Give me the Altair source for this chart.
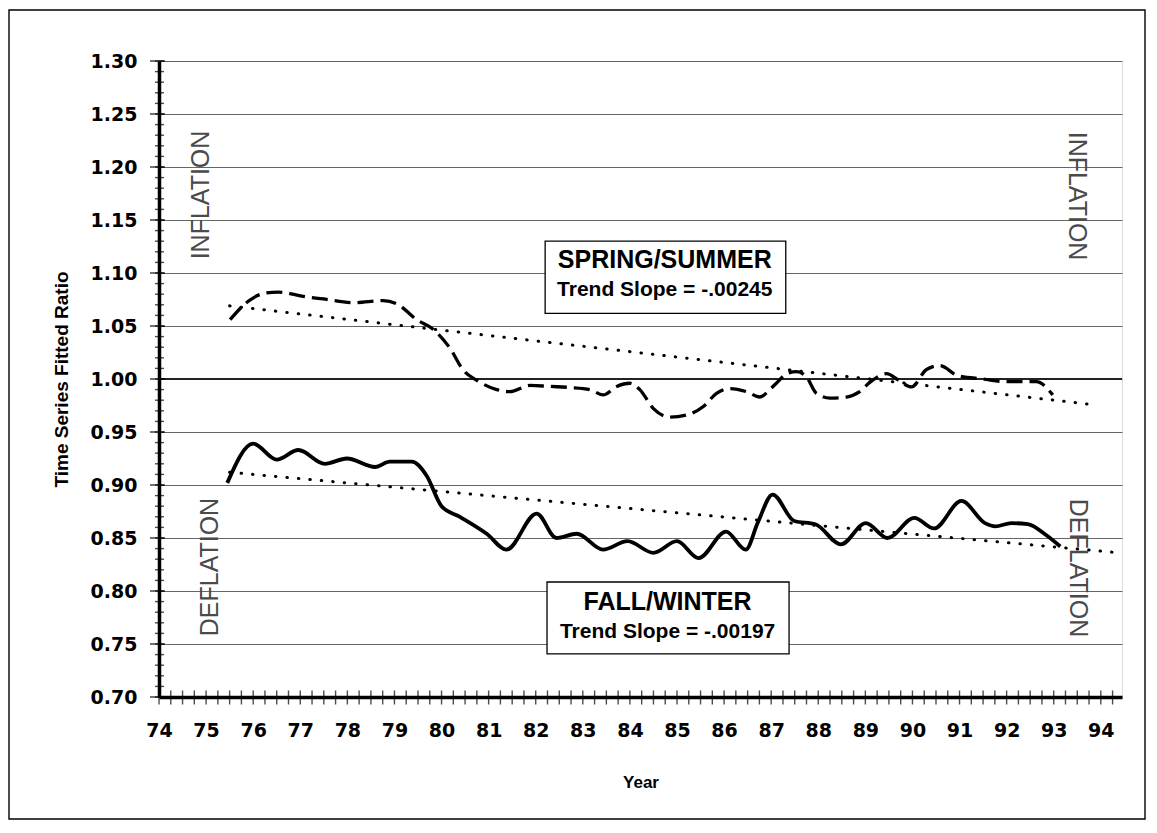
import altair as alt
import pandas as pd

# ---------------- data ----------------
fw_year = [75.45, 76.0, 76.5, 76.96, 77.52, 77.99, 78.59, 78.9, 79.37, 79.68,
           80.0, 80.39, 80.96, 81.38, 82.02, 82.44, 82.87, 83.43, 83.95, 84.5,
           85.0, 85.46, 86.04, 86.46, 86.72, 87.03, 87.49, 87.94, 88.48, 89.01,
           89.47, 90.04, 90.46, 91.04, 91.54, 91.76, 92.1, 92.45, 92.83, 93.14]
fw_val = [0.902, 0.939, 0.924, 0.933, 0.920, 0.925, 0.917, 0.922, 0.922, 0.909,
          0.880, 0.870, 0.854, 0.839, 0.873, 0.850, 0.854, 0.839, 0.847, 0.836,
          0.847, 0.831, 0.856, 0.839, 0.865, 0.891, 0.866, 0.863, 0.844, 0.864,
          0.850, 0.869, 0.859, 0.885, 0.864, 0.861, 0.864, 0.863, 0.853, 0.842]

ss_year = [75.51, 75.93, 76.25, 76.53, 77.06, 77.49, 78.13, 78.76, 79.05, 79.47,
           79.82, 80.18, 80.46, 80.74, 81.17, 81.45, 81.88, 82.3, 82.73, 83.15,
           83.43, 83.72, 84.0, 84.21, 84.5, 84.85, 85.2, 85.56, 85.84, 86.12,
           86.48, 86.76, 86.97, 87.11, 87.33, 87.54, 87.75, 87.96, 88.25, 88.6,
           88.88, 89.1, 89.45, 89.7, 89.98, 90.3, 90.58, 90.97, 91.5, 92.0,
           92.63, 92.98]
ss_val = [1.056, 1.0745, 1.081, 1.082, 1.078, 1.0755, 1.072, 1.074, 1.071, 1.056,
          1.047, 1.029, 1.0085, 0.999, 0.990, 0.988, 0.994, 0.993, 0.992, 0.990,
          0.985, 0.993, 0.996, 0.990, 0.972, 0.964, 0.966, 0.974, 0.9865, 0.991,
          0.988, 0.983, 0.990, 0.996, 1.005, 1.007, 1.002, 0.9865, 0.982, 0.983,
          0.988, 0.997, 1.005, 0.999, 0.9925, 1.009, 1.0126, 1.003, 1.000, 0.9975,
          0.9975, 0.985]

ss_trend_year = [75.5, 93.8]
ss_trend_val = [1.069, 0.976]
fw_trend_year = [75.5, 94.4]
fw_trend_val = [0.912, 0.836]

year_labels = list(range(74, 95))
ratio_labels = [round(0.70 + 0.05 * i, 2) for i in range(13)]
ratio_minor = [round(0.70 + 0.01 * i, 2) for i in range(61)]
year_minor = [74 + 0.25 * i for i in range(82)]

box_text = ["SPRING/SUMMER", "Trend Slope = -.00245", "FALL/WINTER", "Trend Slope = -.00197"]
side_text_left = ["INFLATION", "DEFLATION"]
side_text_right = ["INFLATION", "DEFLATION"]

# ---------------- chart ----------------
W, H = 963, 636
LAB_FONT = "DejaVu Sans"
TXT_FONT = "Liberation Sans"

xs = alt.Scale(domain=[74, 94.45], nice=False, zero=False)
ys = alt.Scale(domain=[0.70, 1.30], nice=False, zero=False)

xax = alt.Axis(values=year_labels, format="d", title="Year", ticks=False, grid=False,
               domainWidth=3.5, domainColor="black", labelFont=LAB_FONT,
               labelFontWeight="bold", labelFontSize=19, labelColor="black",
               labelPadding=24, labelFlush=False, titleFont=TXT_FONT,
               titleFontSize=17, titleFontWeight="bold", titleColor="black",
               titlePadding=34)
yax = alt.Axis(values=ratio_labels, format=".2f", title="Time Series Fitted Ratio",
               ticks=False, grid=True, gridColor="#555", gridWidth=0.9,
               domainWidth=3.5, domainColor="black", labelFont=LAB_FONT,
               labelFontWeight="bold", labelFontSize=19, labelColor="black",
               labelPadding=22, titleFont=TXT_FONT, titleFontSize=19,
               titleFontWeight="bold", titleColor="black", titlePadding=19)


def X(f):
    return alt.X(f, type="quantitative", scale=xs, axis=xax)


def Y(f):
    return alt.Y(f, type="quantitative", scale=ys, axis=yax)


ss_df = pd.DataFrame({"year": ss_year, "ratio": ss_val})
fw_df = pd.DataFrame({"year": fw_year, "ratio": fw_val})
sst_df = pd.DataFrame({"year": ss_trend_year, "ratio": ss_trend_val})
fwt_df = pd.DataFrame({"year": fw_trend_year, "ratio": fw_trend_val})

one = alt.Chart(pd.DataFrame({"ratio": [1.0]})).mark_rule(
    color="#222", strokeWidth=1.8).encode(y=Y("ratio"))

trend_ss = alt.Chart(sst_df).mark_line(color="black", strokeWidth=3.0, strokeCap="round",
                                       strokeDash=[0.5, 11]).encode(x=X("year"), y=Y("ratio"))
trend_fw = alt.Chart(fwt_df).mark_line(color="black", strokeWidth=3.0, strokeCap="round",
                                       strokeDash=[0.5, 11]).encode(x=X("year"), y=Y("ratio"))

line_ss = alt.Chart(ss_df).mark_line(color="black", strokeWidth=3.3, strokeDash=[16, 7],
                                     interpolate="monotone").encode(x=X("year"), y=Y("ratio"))
line_fw = alt.Chart(fw_df).mark_line(color="black", strokeWidth=3.8,
                                     interpolate="monotone").encode(x=X("year"), y=Y("ratio"))

boxes_df = pd.DataFrame({"x1": [82.2, 82.24], "x2": [87.31, 87.38],
                         "y1": [1.130, 0.8085], "y2": [1.062, 0.7406]})
boxes = alt.Chart(boxes_df).mark_rect(fill="white", stroke="black", strokeWidth=1.3).encode(
    x=X("x1"), x2="x2", y=Y("y1"), y2="y2")

titles_df = pd.DataFrame({"year": [84.74, 84.8], "ratio": [1.1123, 0.790],
                          "t": [box_text[0], box_text[2]]})
subs_df = pd.DataFrame({"year": [84.74, 84.8], "ratio": [1.084, 0.7616],
                        "t": [box_text[1], box_text[3]]})
titles = alt.Chart(titles_df).mark_text(font=TXT_FONT, fontSize=25, fontWeight="bold",
                                        color="black", baseline="middle").encode(
    x=X("year"), y=Y("ratio"), text="t:N")
subs = alt.Chart(subs_df).mark_text(font=TXT_FONT, fontSize=21, fontWeight="bold",
                                    color="black", baseline="middle").encode(
    x=X("year"), y=Y("ratio"), text="t:N")

left_df = pd.DataFrame({"year": [74.89, 75.08], "ratio": [1.1736, 0.8226], "t": side_text_left})
right_df = pd.DataFrame({"year": [93.49, 93.51], "ratio": [1.1726, 0.8217], "t": side_text_right})
side_left = alt.Chart(left_df).mark_text(font=TXT_FONT, fontSize=25, angle=270, color="#4a4a4a",
                                         baseline="middle").encode(
    x=X("year"), y=Y("ratio"), text="t:N")
side_right = alt.Chart(right_df).mark_text(font=TXT_FONT, fontSize=25, angle=90, color="#4a4a4a",
                                           baseline="middle").encode(
    x=X("year"), y=Y("ratio"), text="t:N")

ymaj = alt.Chart(pd.DataFrame({"ratio": ratio_labels})).mark_tick(
    orient="horizontal", color="black", thickness=1.6).encode(
    y=Y("ratio"), x=alt.value(-1.5), size=alt.value(15))
ymin = alt.Chart(pd.DataFrame({"ratio": ratio_minor})).mark_tick(
    orient="horizontal", color="black", thickness=1.4).encode(
    y=Y("ratio"), x=alt.value(0.5), size=alt.value(9))
xmin = alt.Chart(pd.DataFrame({"year": year_minor})).mark_tick(
    orient="vertical", color="black", thickness=1.4).encode(
    x=X("year"), y=alt.value(H + 0.5), size=alt.value(14))

frame = alt.Chart(pd.DataFrame({"a": [0]})).mark_rect(
    filled=False, stroke="black", strokeWidth=1.4).encode(
    x=alt.value(-150), x2=alt.value(986), y=alt.value(-51), y2=alt.value(758))

chart = alt.layer(
    frame, one, trend_ss, trend_fw, line_ss, line_fw, boxes, titles, subs,
    side_left, side_right, ymin, ymaj, xmin
).properties(
    width=W, height=H,
    autosize=alt.AutoSizeParams(type="none"),
    padding={"left": 151, "top": 53, "right": 25, "bottom": 125},
).configure_view(stroke="black", strokeWidth=2.5).configure(background="white")

chart.save("out.html", embed_options={"renderer": "svg", "actions": False})
